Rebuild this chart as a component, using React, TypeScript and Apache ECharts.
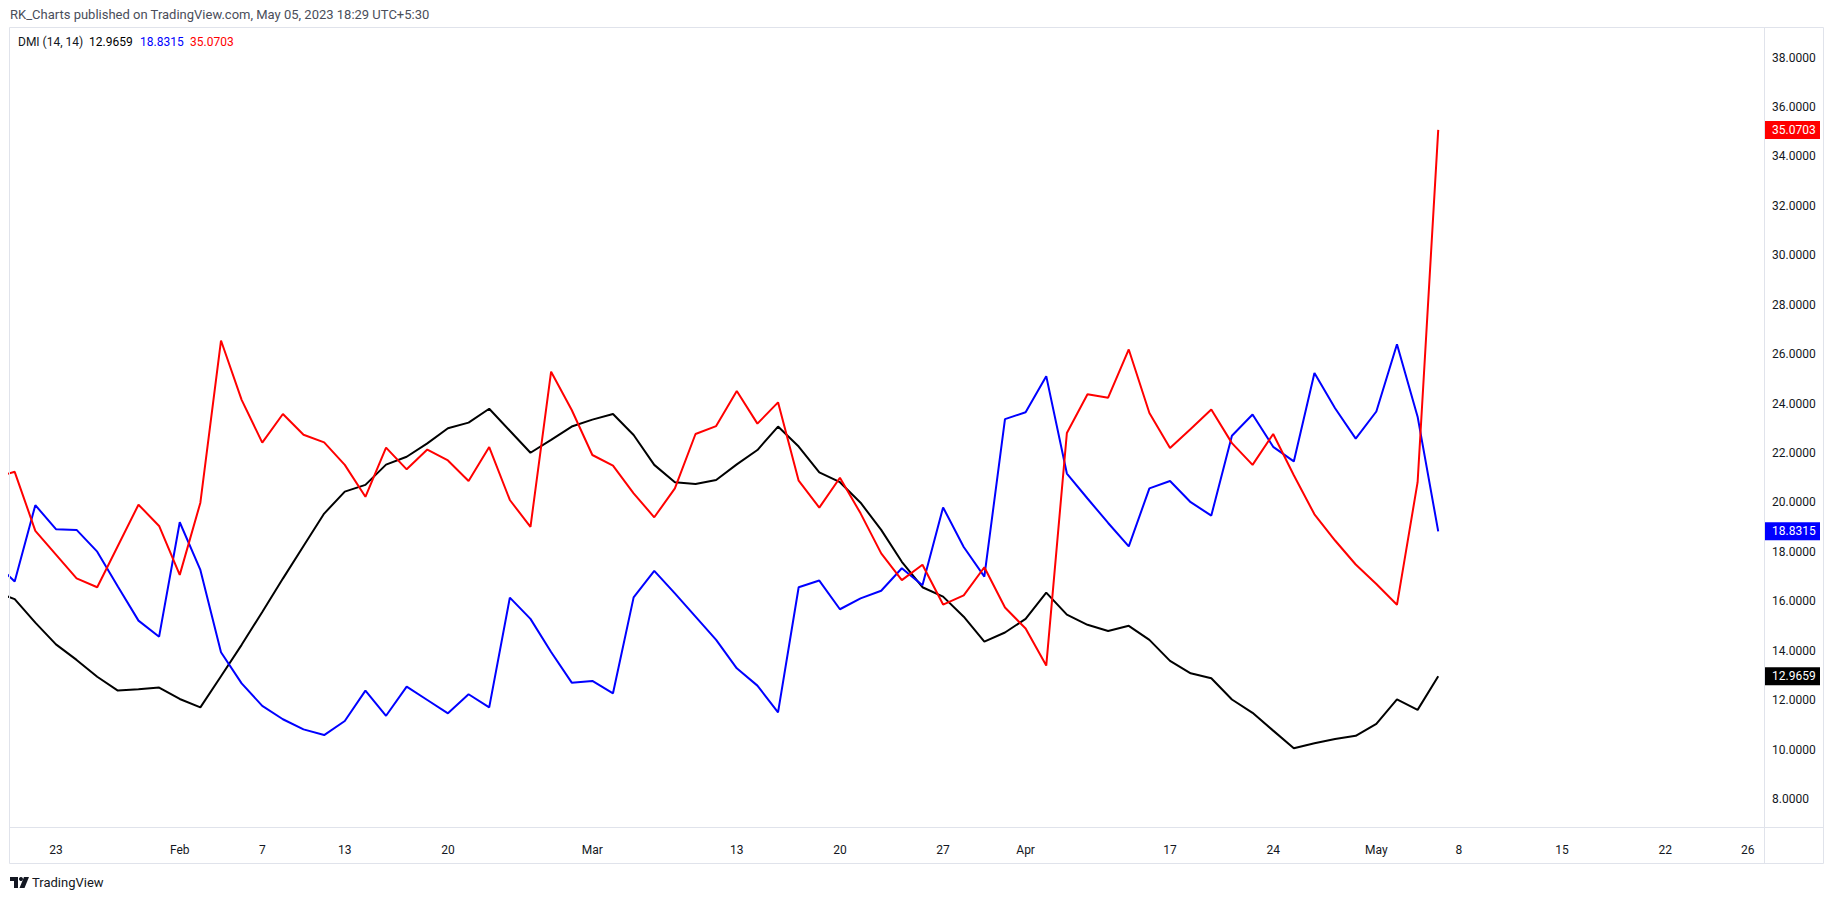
import React, { useEffect, useRef } from "react";
import * as echarts from "echarts";

// Trading days (NSE calendar) followed by future weekdays shown on the time scale
const dates = [
  "2023-01-18","2023-01-19","2023-01-20","2023-01-23","2023-01-24","2023-01-25","2023-01-27","2023-01-30","2023-01-31",
  "2023-02-01","2023-02-02","2023-02-03","2023-02-06","2023-02-07","2023-02-08","2023-02-09","2023-02-10","2023-02-13",
  "2023-02-14","2023-02-15","2023-02-16","2023-02-17","2023-02-20","2023-02-21","2023-02-22","2023-02-23","2023-02-24",
  "2023-02-27","2023-02-28","2023-03-01","2023-03-02","2023-03-03","2023-03-06","2023-03-08","2023-03-09","2023-03-10",
  "2023-03-13","2023-03-14","2023-03-15","2023-03-16","2023-03-17","2023-03-20","2023-03-21","2023-03-22","2023-03-23",
  "2023-03-24","2023-03-27","2023-03-28","2023-03-29","2023-03-31","2023-04-03","2023-04-05","2023-04-06","2023-04-10",
  "2023-04-11","2023-04-12","2023-04-13","2023-04-17","2023-04-18","2023-04-19","2023-04-20","2023-04-21","2023-04-24",
  "2023-04-25","2023-04-26","2023-04-27","2023-04-28","2023-05-02","2023-05-03","2023-05-04","2023-05-05",
  "2023-05-08","2023-05-09","2023-05-10","2023-05-11","2023-05-12","2023-05-15","2023-05-16","2023-05-17","2023-05-18",
  "2023-05-19","2023-05-22","2023-05-23","2023-05-24","2023-05-25","2023-05-26",
];

const adx = [
  16.4, 16.09, 15.14, 14.26, 13.63, 12.95, 12.39, 12.44, 12.51, 12.05, 11.71, 12.97, 14.24, 15.57, 16.92, 18.24, 19.55,
  20.44, 20.71, 21.53, 21.85, 22.39, 23.0, 23.23, 23.79, 22.9, 22.01, 22.53, 23.07, 23.35, 23.58, 22.73, 21.52, 20.82,
  20.75, 20.91, 21.54, 22.12, 23.07, 22.26, 21.22, 20.82, 19.99, 18.89, 17.6, 16.57, 16.19, 15.38, 14.37, 14.74, 15.29,
  16.35, 15.46, 15.05, 14.8, 15.01, 14.44, 13.59, 13.09, 12.89, 12.03, 11.49, 10.77, 10.06, 10.26, 10.43, 10.56, 11.04,
  12.03, 11.61, 12.9659,
];

const diPlus = [
  17.6, 16.8, 19.89, 18.92, 18.89, 18.01, 16.6, 15.22, 14.57, 19.2, 17.27, 13.94, 12.68, 11.77, 11.23, 10.82, 10.59,
  11.16, 12.39, 11.37, 12.55, 12.01, 11.47, 12.24, 11.71, 16.15, 15.29, 13.95, 12.71, 12.78, 12.28, 16.16, 17.23, 16.32,
  15.38, 14.44, 13.29, 12.59, 11.51, 16.57, 16.84, 15.68, 16.12, 16.43, 17.34, 16.65, 19.8, 18.2, 17.0, 23.37, 23.65,
  25.11, 21.17, 20.16, 19.17, 18.22, 20.57, 20.87, 20.01, 19.47, 22.7, 23.56, 22.25, 21.66, 25.24, 23.81, 22.58, 23.68,
  26.4, 23.47, 18.8315,
];

const diMinus = [
  21.0, 21.24, 18.85, 17.89, 16.93, 16.57, 18.24, 19.91, 19.05, 17.07, 19.99, 26.55, 24.15, 22.42, 23.58, 22.74, 22.43,
  21.52, 20.23, 22.22, 21.34, 22.14, 21.7, 20.87, 22.24, 20.1, 19.01, 25.29, 23.74, 21.92, 21.49, 20.37, 19.4, 20.57,
  22.77, 23.09, 24.51, 23.19, 24.05, 20.88, 19.79, 21.0, 19.56, 17.94, 16.86, 17.48, 15.87, 16.24, 17.38, 15.75, 14.9,
  13.4, 22.81, 24.38, 24.24, 26.19, 23.62, 22.2, 22.97, 23.76, 22.4, 21.52, 22.77, 21.1, 19.52, 18.46, 17.49, 16.7,
  15.86, 20.82, 35.0703,
];

const tickDates = [
  "2023-01-23","2023-02-01","2023-02-07","2023-02-13","2023-02-20","2023-03-01","2023-03-13","2023-03-20","2023-03-27",
  "2023-04-03","2023-04-17","2023-04-24","2023-05-02","2023-05-08","2023-05-15","2023-05-22","2023-05-26",
];
const tickLabels = ["23","Feb","7","13","20","Mar","13","20","27","Apr","17","24","May","8","15","22","26"];
const yTicks = [8, 10, 12, 14, 16, 18, 20, 22, 24, 26, 28, 30, 32, 34, 36, 38];

const BLACK = "#000000";
const BLUE = "#0000ff";
const RED = "#ff0000";
const TEXT = "#131722";
const BORDER = "#e0e3eb";
const FONT = "Roboto, 'Noto Sans', sans-serif";

const W = 1834;
const H = 899;
const PANE_L = 9;
const PANE_T = 27;
const PANE_R = 1823;
const PANE_B = 863;
const AXIS_X = 1764;
const AXIS_Y = 827;

export default function App() {
  const ref = useRef<HTMLDivElement | null>(null);

  useEffect(() => {
    if (!ref.current) return;
    const chart = echarts.init(ref.current, null, { renderer: "svg", width: W, height: H });
    const tickIdx = tickDates.map((d) => dates.indexOf(d));
    const toPairs = (arr: number[]) => arr.map((v, i) => [i, v]);
    const lastIdx = adx.length - 1;

    chart.setOption({
      animation: false,
      backgroundColor: "#ffffff",
      grid: { left: PANE_L, right: W - AXIS_X, top: PANE_T, bottom: H - AXIS_Y, containLabel: false },
      xAxis: {
        type: "value",
        min: 0.724,
        max: 85.79,
        axisLine: { show: false },
        axisTick: { show: false },
        splitLine: { show: false },
        axisLabel: {
          customValues: tickIdx,
          margin: 17,
          color: TEXT,
          fontSize: 12,
          fontFamily: FONT,
          formatter: (v: number) => {
            const j = tickIdx.indexOf(Math.round(v));
            return j >= 0 ? tickLabels[j] : "";
          },
        },
      },
      yAxis: {
        type: "value",
        position: "right",
        min: 6.871,
        max: 39.234,
        axisLine: { show: false },
        axisTick: { show: false },
        splitLine: { show: false },
        axisLabel: {
          customValues: yTicks,
          margin: 8,
          color: TEXT,
          fontSize: 12,
          fontFamily: FONT,
          formatter: (v: number) => v.toFixed(4),
        },
      },
      series: [
        { name: "ADX", type: "line", data: toPairs(adx), showSymbol: false, lineStyle: { color: BLACK, width: 2 }, itemStyle: { color: BLACK }, z: 2 },
        { name: "+DI", type: "line", data: toPairs(diPlus), showSymbol: false, lineStyle: { color: BLUE, width: 2 }, itemStyle: { color: BLUE }, z: 3 },
        { name: "-DI", type: "line", data: toPairs(diMinus), showSymbol: false, lineStyle: { color: RED, width: 2 }, itemStyle: { color: RED }, z: 4 },
      ],
    });

    const lastBox = (id: string, value: number, color: string) => {
      const y = chart.convertToPixel({ yAxisIndex: 0 }, value) as number;
      return {
        type: "group",
        id,
        z: 100,
        children: [
          { type: "rect", shape: { x: AXIS_X, y: y - 9, width: 56, height: 18 }, style: { fill: color } },
          {
            type: "text",
            x: AXIS_X + 8,
            y,
            style: { text: value.toFixed(4), fill: "#ffffff", font: `12px ${FONT}`, textVerticalAlign: "middle" },
          },
        ],
      };
    };

    const legendText = (id: string, x: number, text: string, color: string) => ({
      type: "text",
      id,
      x,
      y: 42,
      style: { text, fill: color, font: `12px ${FONT}`, textVerticalAlign: "middle" },
    });

    chart.setOption({
      graphic: [
        {
          type: "rect",
          id: "frame",
          shape: { x: PANE_L + 0.5, y: PANE_T + 0.5, width: PANE_R - PANE_L, height: PANE_B - PANE_T },
          style: { fill: "none", stroke: BORDER, lineWidth: 1 },
          z: 50,
        },
        {
          type: "line",
          id: "xsep",
          shape: { x1: PANE_L, y1: AXIS_Y + 0.5, x2: PANE_R, y2: AXIS_Y + 0.5 },
          style: { stroke: BORDER, lineWidth: 1 },
          z: 50,
        },
        {
          type: "line",
          id: "ysep",
          shape: { x1: AXIS_X + 0.5, y1: PANE_T, x2: AXIS_X + 0.5, y2: PANE_B },
          style: { stroke: BORDER, lineWidth: 1 },
          z: 50,
        },
        {
          type: "text",
          id: "header",
          x: 10,
          y: 14,
          style: {
            text: "RK_Charts published on TradingView.com, May 05, 2023 18:29 UTC+5:30",
            fill: "#4a4e5a",
            font: `13px ${FONT}`,
            textVerticalAlign: "middle",
          },
        },
        legendText("lgName", 18, "DMI (14, 14)", TEXT),
        legendText("lgAdx", 89, adx[lastIdx].toFixed(4), BLACK),
        legendText("lgPlus", 140, diPlus[lastIdx].toFixed(4), BLUE),
        legendText("lgMinus", 190, diMinus[lastIdx].toFixed(4), RED),
        lastBox("boxMinus", diMinus[lastIdx], RED),
        lastBox("boxPlus", diPlus[lastIdx], BLUE),
        lastBox("boxAdx", adx[lastIdx], BLACK),
        {
          type: "group",
          id: "tvlogo",
          x: 10,
          y: 877,
          children: [
            { type: "polygon", shape: { points: [[0, 0], [8, 0], [8, 11], [4, 11], [4, 4], [0, 4]] }, style: { fill: TEXT } },
            { type: "circle", shape: { cx: 11, cy: 2, r: 2 }, style: { fill: TEXT } },
            { type: "polygon", shape: { points: [[14, 0], [19, 0], [14.5, 11], [9.5, 11]] }, style: { fill: TEXT } },
          ],
        },
        {
          type: "text",
          id: "tvtext",
          x: 32,
          y: 882,
          style: { text: "TradingView", fill: TEXT, font: `13px ${FONT}`, textVerticalAlign: "middle" },
        },
      ],
    });

    return () => chart.dispose();
  }, []);

  return (
    <div
      ref={ref}
      style={{ position: "fixed", left: 0, top: 0, width: W, height: H, background: "#ffffff" }}
    />
  );
}
